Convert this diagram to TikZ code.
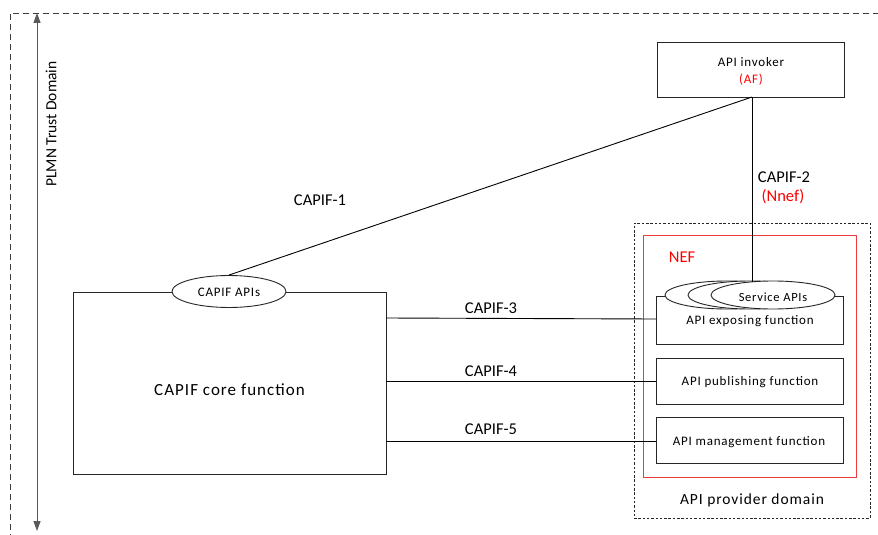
\documentclass[tikz,border=0pt]{standalone}
\usepackage{fontspec}
\setmainfont{Carlito}
\newfontfamily\spacedfont[LetterSpace=6]{Carlito}
\usetikzlibrary{arrows.meta,shapes.geometric}
\definecolor{edge}{gray}{0.15}
\definecolor{nefred}{RGB}{240,60,60}
\tikzset{
  box/.style={draw=edge, line width=0.9pt, fill=white, inner sep=0pt},
  apioval/.style={draw=edge, line width=0.9pt, fill=white, ellipse, inner sep=0pt},
  link/.style={draw=black, line width=0.9pt},
  lbl/.style={inner sep=0pt, font=\fontsize{16.5}{18}\selectfont},
  fn/.style={inner sep=0pt, font=\spacedfont\fontsize{13}{15}\selectfont},
  redtxt/.style={text=red},
}
\begin{document}
\begin{tikzpicture}[x=1pt, y=-1pt]
\useasboundingbox (0,0) rectangle (878,535);
\fill[white] (0,0) rectangle (878,535);

% PLMN trust domain frame (runs off the page to the right and bottom)
\begin{scope}
\clip (0,0) rectangle (878,535);
\draw[edge!90, line width=0.9pt, dash pattern=on 6pt off 4pt] (10,560) -- (10,13) -- (900,13);
\end{scope}
\coordinate (ptop) at (37,13);
\coordinate (pbot) at (37,531);
\draw[black!65, line width=1pt, {Triangle[length=10pt,width=7pt]}-{Triangle[length=10pt,width=7pt]}] (ptop) -- (pbot);
\node[lbl, rotate=90, font=\fontsize{15.5}{17}\selectfont] (plmn) at (51,124) {PLMN Trust Domain};

% API invoker
\node[box, minimum width=187pt, minimum height=55pt] (inv) at (750.5,69.5) {};
\node[fn] (invt) at (751,62) {API invoker};
\node[fn, redtxt] (invaf) at (751,80) {(AF)};

% CAPIF core function
\node[box, minimum width=313pt, minimum height=182pt] (core) at (229.5,383) {};
\node[lbl, font=\spacedfont\fontsize{17}{19}\selectfont] (coret) at (229.5,390) {CAPIF core function};
\node[apioval, minimum width=114pt, minimum height=32pt] (capifapi) at (229,291.5) {};
\node[fn] (capifapit) at (229,292) {CAPIF APIs};

% API provider domain and NEF
\node[draw=edge, line width=0.8pt, dash pattern=on 2.5pt off 1.8pt, minimum width=236pt, minimum height=295pt, inner sep=0pt] (prov) at (752,370.5) {};
\node[lbl, font=\spacedfont\fontsize{15.5}{17}\selectfont] (provt) at (752,500) {API provider domain};
\node[draw=nefred, line width=0.9pt, minimum width=213pt, minimum height=242pt, inner sep=0pt] (nef) at (749.5,356.5) {};
\node[lbl, redtxt] (neft) at (682,257) {NEF};

% API functions
\node[box, minimum width=187pt, minimum height=48pt] (expo) at (749.5,320) {};
\node[fn] (expot) at (750,321) {API exposing function};
\node[box, minimum width=187pt, minimum height=46pt] (publ) at (749.5,381) {};
\node[fn] (publt) at (750,382) {API publishing function};
\node[box, minimum width=187pt, minimum height=46pt] (mgmt) at (749.5,440) {};
\node[fn] (mgmtt) at (749,442) {API management function};

% Service APIs ovals
\node[apioval, minimum width=124pt, minimum height=28pt] (svc1) at (727,295) {};
\node[apioval, minimum width=124pt, minimum height=28pt] (svc2) at (750,295) {};
\node[apioval, minimum width=124pt, minimum height=28pt] (svc3) at (773,295) {};
\node[fn, font=\spacedfont\fontsize{12.5}{15}\selectfont] (svct) at (773,297) {Service APIs};

% Reference points
\coordinate (c1a) at (capifapi.north);
\coordinate (c1b) at (752,97);
\coordinate (c2b) at (752,281.5);
\coordinate (c3a) at (386,318);
\coordinate (c3b) at (656,319);
\coordinate (c4a) at (386,381);
\coordinate (c4b) at (656,381);
\coordinate (c5a) at (386,441);
\coordinate (c5b) at (656,441);

% Reference points: CAPIF-1 .. CAPIF-5
\draw[link] (c1a) -- (c1b);
\draw[link] (c1b) -- (c2b);
\draw[link] (c3a) -- (c3b);
\draw[link] (c4a) -- (c4b);
\draw[link] (c5a) -- (c5b);

\node[lbl] (l1) at (320,200) {CAPIF-1};
\node[lbl] (l2) at (784,177) {CAPIF-2};
\node[lbl, redtxt] (l2b) at (783,197) {(Nnef)};
\node[lbl] (l3) at (491,308) {CAPIF-3};
\node[lbl] (l4) at (491,371) {CAPIF-4};
\node[lbl] (l5) at (491,429) {CAPIF-5};
\end{tikzpicture}
\end{document}
